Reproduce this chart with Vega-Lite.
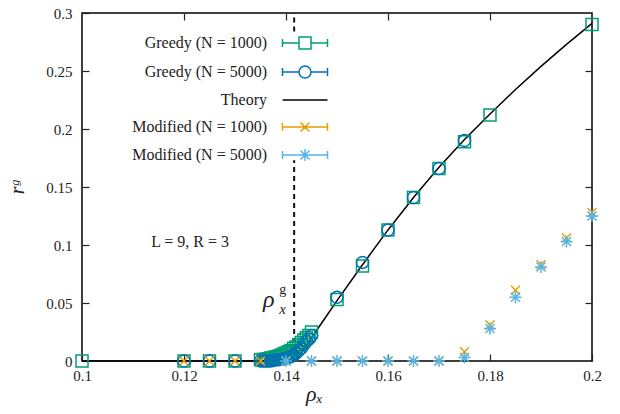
{
  "$schema": "https://vega.github.io/schema/vega-lite/v6.json",
  "width": 510,
  "height": 348,
  "autosize": {"type": "none"},
  "padding": {"left": 82, "top": 13, "right": 28, "bottom": 53},
  "background": "white",
  "config": {
    "font": "Liberation Serif",
    "view": {"stroke": "black", "strokeWidth": 1.5},
    "axis": {"grid": false, "domain": false, "labelFlush": false, "labelFont": "Liberation Serif", "labelFontSize": 15, "labelColor": "#222", "tickColor": "#222", "tickWidth": 1.2, "titleFont": "Liberation Serif", "titleFontWeight": "normal", "titleColor": "#222"}
  },
  "datasets": {
    "points": [
      {"series": "Greedy (N = 1000)", "x": 0.1, "y": 0},
      {"series": "Greedy (N = 1000)", "x": 0.12, "y": 0},
      {"series": "Greedy (N = 1000)", "x": 0.125, "y": 0},
      {"series": "Greedy (N = 1000)", "x": 0.13, "y": 0},
      {"series": "Greedy (N = 1000)", "x": 0.135, "y": 0.001},
      {"series": "Greedy (N = 1000)", "x": 0.1355, "y": 0.0012},
      {"series": "Greedy (N = 1000)", "x": 0.136, "y": 0.0015},
      {"series": "Greedy (N = 1000)", "x": 0.1365, "y": 0.002},
      {"series": "Greedy (N = 1000)", "x": 0.137, "y": 0.0025},
      {"series": "Greedy (N = 1000)", "x": 0.1375, "y": 0.003},
      {"series": "Greedy (N = 1000)", "x": 0.138, "y": 0.0035},
      {"series": "Greedy (N = 1000)", "x": 0.1385, "y": 0.004},
      {"series": "Greedy (N = 1000)", "x": 0.139, "y": 0.005},
      {"series": "Greedy (N = 1000)", "x": 0.1395, "y": 0.006},
      {"series": "Greedy (N = 1000)", "x": 0.14, "y": 0.007},
      {"series": "Greedy (N = 1000)", "x": 0.1405, "y": 0.008},
      {"series": "Greedy (N = 1000)", "x": 0.141, "y": 0.009},
      {"series": "Greedy (N = 1000)", "x": 0.1415, "y": 0.011},
      {"series": "Greedy (N = 1000)", "x": 0.142, "y": 0.012},
      {"series": "Greedy (N = 1000)", "x": 0.1425, "y": 0.014},
      {"series": "Greedy (N = 1000)", "x": 0.143, "y": 0.016},
      {"series": "Greedy (N = 1000)", "x": 0.1435, "y": 0.018},
      {"series": "Greedy (N = 1000)", "x": 0.144, "y": 0.02},
      {"series": "Greedy (N = 1000)", "x": 0.1445, "y": 0.022},
      {"series": "Greedy (N = 1000)", "x": 0.145, "y": 0.025},
      {"series": "Greedy (N = 1000)", "x": 0.15, "y": 0.053},
      {"series": "Greedy (N = 1000)", "x": 0.155, "y": 0.082},
      {"series": "Greedy (N = 1000)", "x": 0.16, "y": 0.113},
      {"series": "Greedy (N = 1000)", "x": 0.165, "y": 0.141},
      {"series": "Greedy (N = 1000)", "x": 0.17, "y": 0.166},
      {"series": "Greedy (N = 1000)", "x": 0.175, "y": 0.189},
      {"series": "Greedy (N = 1000)", "x": 0.18, "y": 0.212},
      {"series": "Greedy (N = 1000)", "x": 0.2, "y": 0.29},
      {"series": "Greedy (N = 5000)", "x": 0.12, "y": 0},
      {"series": "Greedy (N = 5000)", "x": 0.125, "y": 0},
      {"series": "Greedy (N = 5000)", "x": 0.13, "y": 0},
      {"series": "Greedy (N = 5000)", "x": 0.135, "y": 0},
      {"series": "Greedy (N = 5000)", "x": 0.1355, "y": 0},
      {"series": "Greedy (N = 5000)", "x": 0.136, "y": 0},
      {"series": "Greedy (N = 5000)", "x": 0.1365, "y": 0},
      {"series": "Greedy (N = 5000)", "x": 0.137, "y": 0},
      {"series": "Greedy (N = 5000)", "x": 0.1375, "y": 0.0005},
      {"series": "Greedy (N = 5000)", "x": 0.138, "y": 0.001},
      {"series": "Greedy (N = 5000)", "x": 0.1385, "y": 0.001},
      {"series": "Greedy (N = 5000)", "x": 0.139, "y": 0.0015},
      {"series": "Greedy (N = 5000)", "x": 0.1395, "y": 0.002},
      {"series": "Greedy (N = 5000)", "x": 0.14, "y": 0.0025},
      {"series": "Greedy (N = 5000)", "x": 0.1405, "y": 0.003},
      {"series": "Greedy (N = 5000)", "x": 0.141, "y": 0.004},
      {"series": "Greedy (N = 5000)", "x": 0.1415, "y": 0.005},
      {"series": "Greedy (N = 5000)", "x": 0.142, "y": 0.007},
      {"series": "Greedy (N = 5000)", "x": 0.1425, "y": 0.009},
      {"series": "Greedy (N = 5000)", "x": 0.143, "y": 0.011},
      {"series": "Greedy (N = 5000)", "x": 0.1435, "y": 0.014},
      {"series": "Greedy (N = 5000)", "x": 0.144, "y": 0.017},
      {"series": "Greedy (N = 5000)", "x": 0.1445, "y": 0.019},
      {"series": "Greedy (N = 5000)", "x": 0.145, "y": 0.022},
      {"series": "Greedy (N = 5000)", "x": 0.15, "y": 0.055},
      {"series": "Greedy (N = 5000)", "x": 0.155, "y": 0.085},
      {"series": "Greedy (N = 5000)", "x": 0.16, "y": 0.113},
      {"series": "Greedy (N = 5000)", "x": 0.165, "y": 0.141},
      {"series": "Greedy (N = 5000)", "x": 0.17, "y": 0.166},
      {"series": "Greedy (N = 5000)", "x": 0.175, "y": 0.19},
      {"series": "Modified (N = 1000)", "x": 0.12, "y": 0},
      {"series": "Modified (N = 1000)", "x": 0.125, "y": 0},
      {"series": "Modified (N = 1000)", "x": 0.13, "y": 0},
      {"series": "Modified (N = 1000)", "x": 0.135, "y": 0},
      {"series": "Modified (N = 1000)", "x": 0.14, "y": 0},
      {"series": "Modified (N = 1000)", "x": 0.145, "y": 0},
      {"series": "Modified (N = 1000)", "x": 0.15, "y": 0},
      {"series": "Modified (N = 1000)", "x": 0.155, "y": 0},
      {"series": "Modified (N = 1000)", "x": 0.16, "y": 0},
      {"series": "Modified (N = 1000)", "x": 0.165, "y": 0},
      {"series": "Modified (N = 1000)", "x": 0.17, "y": 0},
      {"series": "Modified (N = 1000)", "x": 0.175, "y": 0.008},
      {"series": "Modified (N = 1000)", "x": 0.18, "y": 0.031},
      {"series": "Modified (N = 1000)", "x": 0.185, "y": 0.061},
      {"series": "Modified (N = 1000)", "x": 0.19, "y": 0.083},
      {"series": "Modified (N = 1000)", "x": 0.195, "y": 0.106},
      {"series": "Modified (N = 1000)", "x": 0.2, "y": 0.128},
      {"series": "Modified (N = 5000)", "x": 0.14, "y": 0},
      {"series": "Modified (N = 5000)", "x": 0.145, "y": 0},
      {"series": "Modified (N = 5000)", "x": 0.15, "y": 0},
      {"series": "Modified (N = 5000)", "x": 0.155, "y": 0},
      {"series": "Modified (N = 5000)", "x": 0.16, "y": 0},
      {"series": "Modified (N = 5000)", "x": 0.165, "y": 0},
      {"series": "Modified (N = 5000)", "x": 0.17, "y": 0},
      {"series": "Modified (N = 5000)", "x": 0.175, "y": 0.003},
      {"series": "Modified (N = 5000)", "x": 0.18, "y": 0.028},
      {"series": "Modified (N = 5000)", "x": 0.185, "y": 0.055},
      {"series": "Modified (N = 5000)", "x": 0.19, "y": 0.081},
      {"series": "Modified (N = 5000)", "x": 0.195, "y": 0.103},
      {"series": "Modified (N = 5000)", "x": 0.2, "y": 0.125}
    ],
    "theory": [
      {"series": "Theory", "x": 0.1, "y": 0},
      {"series": "Theory", "x": 0.1418, "y": 0},
      {"series": "Theory", "x": 0.143, "y": 0.007},
      {"series": "Theory", "x": 0.145, "y": 0.02},
      {"series": "Theory", "x": 0.1475, "y": 0.036},
      {"series": "Theory", "x": 0.15, "y": 0.052},
      {"series": "Theory", "x": 0.155, "y": 0.083},
      {"series": "Theory", "x": 0.16, "y": 0.113},
      {"series": "Theory", "x": 0.165, "y": 0.141},
      {"series": "Theory", "x": 0.17, "y": 0.167},
      {"series": "Theory", "x": 0.175, "y": 0.191},
      {"series": "Theory", "x": 0.18, "y": 0.213},
      {"series": "Theory", "x": 0.185, "y": 0.234},
      {"series": "Theory", "x": 0.19, "y": 0.254},
      {"series": "Theory", "x": 0.195, "y": 0.273},
      {"series": "Theory", "x": 0.2, "y": 0.291}
    ],
    "vline": [
      {"x": 0.1416, "y": 0, "y2": 0.173},
      {"x": 0.1416, "y": 0.284, "y2": 0.3}
    ],
    "notes": [
      {"x": 0.1366, "y": 0.053, "main": "ρ", "sup": "g", "sub": "x"}
    ],
    "params": [
      {"x": 0.1212, "y": 0.1026, "text": "L = 9, R = 3"}
    ]
  },
  "resolve": {"axis": {"x": "independent", "y": "independent"}},
  "layer": [
    {
      "data": {"name": "vline"},
      "mark": {"type": "rule", "color": "#111", "strokeWidth": 2, "strokeDash": [5, 4]},
      "encoding": {
        "x": {"field": "x", "type": "quantitative", "scale": {"domain": [0.1, 0.2], "nice": false, "zero": false},
              "axis": {"orient": "top", "labels": false, "title": null, "values": [0.12, 0.14, 0.16, 0.18], "tickSize": -7}},
        "y": {"field": "y", "type": "quantitative", "scale": {"domain": [0, 0.3], "nice": false},
              "axis": {"orient": "right", "labels": false, "title": null, "values": [0.05, 0.1, 0.15, 0.2, 0.25], "tickSize": -7}},
        "y2": {"field": "y2"}
      }
    },
    {
      "data": {"name": "theory"},
      "mark": {"type": "line", "strokeWidth": 1.5},
      "encoding": {
        "x": {"field": "x", "type": "quantitative", "axis": null},
        "y": {"field": "y", "type": "quantitative", "axis": null},
        "color": {"field": "series", "type": "nominal"}
      }
    },
    {
      "data": {"name": "points"},
      "mark": {"type": "point", "filled": false, "strokeWidth": 1.5, "size": 144, "opacity": 1},
      "encoding": {
        "x": {"field": "x", "type": "quantitative",
              "axis": {"orient": "bottom", "values": [0.1, 0.12, 0.14, 0.16, 0.18, 0.2], "format": "~g", "tickSize": -7, "labelPadding": 14, "title": "ρₓ", "titleFontSize": 22, "titleFontStyle": "italic", "titlePadding": 0, "titleX": 232}},
        "y": {"field": "y", "type": "quantitative",
              "axis": {"orient": "left", "values": [0, 0.05, 0.1, 0.15, 0.2, 0.25, 0.3], "format": "~g", "tickSize": -7, "labelPadding": 17, "title": "rᵍ", "titleFontSize": 20, "titleFontStyle": "italic", "titlePadding": 18}},
        "color": {"field": "series", "type": "nominal",
          "scale": {"domain": ["Greedy (N = 1000)", "Greedy (N = 5000)", "Theory", "Modified (N = 1000)", "Modified (N = 5000)"],
                    "range": ["#009e73", "#0072b2", "#000000", "#e69f00", "#56b4e9"]},
          "legend": {
            "title": null, "orient": "none", "legendX": 215, "legendY": 22, "padding": 0,
            "labelFont": "Liberation Serif", "labelFontSize": 16, "labelColor": "#222",
            "labelAlign": "right", "labelOffset": -46, "symbolSize": 144, "rowPadding": 11,
            "symbolStrokeWidth": 1.5,
            "encoding": {"symbols": {
              "shape": {"value": {"expr": "datum.index == 0 ? 'M-3.75,-0.67V0.67M3.75,-0.67V0.67M-3.75,0H-1M1,0H3.75M-1,-1H1V1H-1Z' : datum.index == 1 ? 'M-3.75,-0.67V0.67M3.75,-0.67V0.67M-3.75,0H-1M1,0H3.75M1,0A1,1 0 1,1 -1,0A1,1 0 1,1 1,0' : datum.index == 2 ? 'M-3.75,0H3.75' : datum.index == 3 ? 'M-3.75,-0.67V0.67M3.75,-0.67V0.67M-3.75,0H3.75M-0.75,-0.75L0.75,0.75M-0.75,0.75L0.75,-0.75' : 'M-3.75,-0.67V0.67M3.75,-0.67V0.67M-3.75,0H3.75M0,-1V1M-0.75,-0.75L0.75,0.75M-0.75,0.75L0.75,-0.75'"}},
              "strokeWidth": {"value": 1.5},
              "opacity": {"value": 1}
            }}
          }},
        "shape": {"field": "series", "type": "nominal", "legend": null,
          "scale": {"domain": ["Greedy (N = 1000)", "Greedy (N = 5000)", "Modified (N = 1000)", "Modified (N = 5000)"],
                    "range": ["M-1,-1H1V1H-1Z", "M1,0A1,1 0 1,1 -1,0A1,1 0 1,1 1,0", "M-0.75,-0.75L0.75,0.75M-0.75,0.75L0.75,-0.75", "M-1,0H1M0,-1V1M-0.75,-0.75L0.75,0.75M-0.75,0.75L0.75,-0.75"]}}
      }
    },
    {
      "data": {"name": "notes"},
      "mark": {"type": "text", "fontSize": 24, "fontStyle": "italic", "font": "Liberation Serif", "color": "#222"},
      "encoding": {"x": {"field": "x", "type": "quantitative", "axis": null}, "y": {"field": "y", "type": "quantitative", "axis": null}, "text": {"field": "main"}}
    },
    {
      "data": {"name": "notes"},
      "mark": {"type": "text", "fontSize": 14, "font": "Liberation Serif", "color": "#222", "dx": 14, "dy": -10},
      "encoding": {"x": {"field": "x", "type": "quantitative", "axis": null}, "y": {"field": "y", "type": "quantitative", "axis": null}, "text": {"field": "sup"}}
    },
    {
      "data": {"name": "notes"},
      "mark": {"type": "text", "fontSize": 15, "fontStyle": "italic", "font": "Liberation Serif", "color": "#222", "dx": 14, "dy": 9},
      "encoding": {"x": {"field": "x", "type": "quantitative", "axis": null}, "y": {"field": "y", "type": "quantitative", "axis": null}, "text": {"field": "sub"}}
    },
    {
      "data": {"name": "params"},
      "mark": {"type": "text", "fontSize": 16, "font": "Liberation Serif", "color": "#222"},
      "encoding": {"x": {"field": "x", "type": "quantitative", "axis": null}, "y": {"field": "y", "type": "quantitative", "axis": null}, "text": {"field": "text"}}
    }
  ]
}
